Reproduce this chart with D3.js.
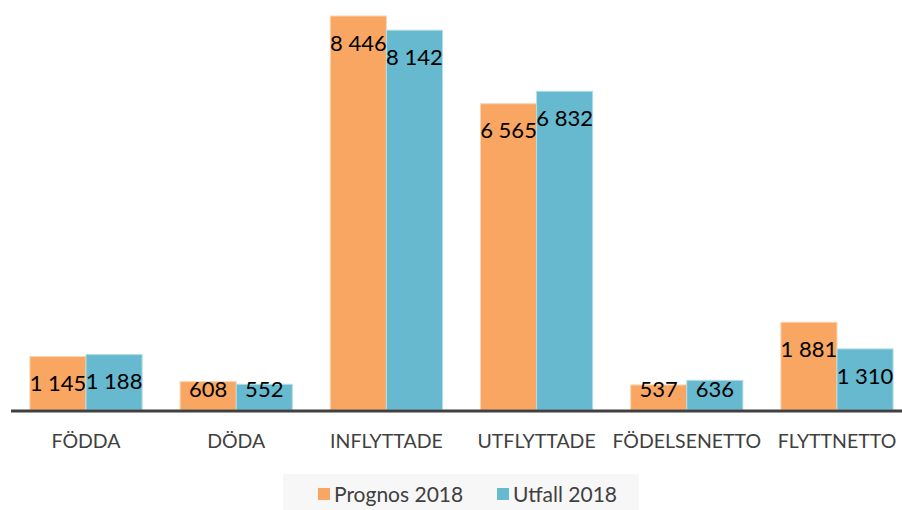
<!DOCTYPE html>
<html>
<head>
<meta charset="utf-8">
<script src="https://cdn.jsdelivr.net/npm/d3@7"></script>
<style>
  body { margin: 0; background: #fff; }
  svg { display: block; font-family: Lato, "Open Sans", sans-serif; }
</style>
</head>
<body>
<div id="chart"></div>
<script>
// ── Data ──
const categories = ["FÖDDA", "DÖDA", "INFLYTTADE", "UTFLYTTADE", "FÖDELSENETTO", "FLYTTNETTO"];
const seriesNames = ["Prognos 2018", "Utfall 2018"];
const prognos = [1145, 608, 8446, 6565, 537, 1881];
const utfall = [1188, 552, 8142, 6832, 636, 1310];
const colors = ["#F8A662", "#66B9CF"];

const WIDTH = 902;
const HEIGHT = 510;
const baseY = 410;

const fmt = v => d3.format(",")(v).replace(/,/g, " ");

const svg = d3.select("#chart").append("svg")
    .attr("width", WIDTH)
    .attr("height", HEIGHT);

// ── Scales ──
const x0 = d3.scaleBand()
    .domain(categories)
    .range([11, 912])
    .paddingInner(0.253)
    .paddingOuter(0.126);

const x1 = d3.scaleBand()
    .domain(seriesNames)
    .range([0, x0.bandwidth()]);

const y = d3.scaleLinear()
    .domain([0, 8446])
    .range([baseY, 16]);

const rows = categories.map((c, i) => ({ cat: c, values: [prognos[i], utfall[i]] }));

// ── Bars ──
const groups = svg.append("g").selectAll("g")
    .data(rows)
    .enter().append("g")
    .attr("transform", d => `translate(${x0(d.cat)},0)`);

const cells = groups.selectAll("g.cell")
    .data(d => d.values.map((v, j) => ({ v, s: seriesNames[j], j })))
    .enter().append("g").attr("class", "cell");

cells.append("rect")
    .attr("x", d => x1(d.s))
    .attr("y", d => y(d.v))
    .attr("width", x1.bandwidth())
    .attr("height", d => baseY - y(d.v))
    .attr("fill", d => colors[d.j])
    .attr("stroke", d => d.j === 0 ? "#FBD3B0" : "#B4DDE8")
    .attr("stroke-width", 1);

cells.append("text")
    .attr("x", d => x1(d.s) + x1.bandwidth() / 2)
    .attr("y", d => Math.min(y(d.v) + 27, 389))
    .attr("dy", "0.35em")
    .attr("text-anchor", "middle")
    .attr("font-size", 22)
    .attr("fill", "#000")
    .text(d => fmt(d.v));

// ── Axis ──
svg.append("line")
    .attr("x1", 11).attr("x2", 902)
    .attr("y1", baseY + 1).attr("y2", baseY + 1)
    .attr("stroke", "#404040")
    .attr("stroke-width", 3);

svg.append("g").selectAll("text")
    .data(categories)
    .enter().append("text")
    .attr("x", d => x0(d) + x0.bandwidth() / 2)
    .attr("y", 441)
    .attr("dy", "0.35em")
    .attr("text-anchor", "middle")
    .attr("font-size", 19.5)
    .attr("fill", "#404040")
    .text(d => d);

// ── Legend ──
const legend = svg.append("g");
legend.append("rect")
    .attr("x", 283).attr("y", 474)
    .attr("width", 356).attr("height", 40)
    .attr("fill", "#F7F7F7");

const legendX = [318, 497];
seriesNames.forEach((s, i) => {
    legend.append("rect")
        .attr("x", legendX[i]).attr("y", 488)
        .attr("width", 12).attr("height", 12)
        .attr("fill", colors[i]);
    legend.append("text")
        .attr("x", legendX[i] + 16)
        .attr("y", 495)
        .attr("dy", "0.35em")
        .attr("font-size", 21)
        .attr("fill", "#404040")
        .text(s);
});
</script>
</body>
</html>
